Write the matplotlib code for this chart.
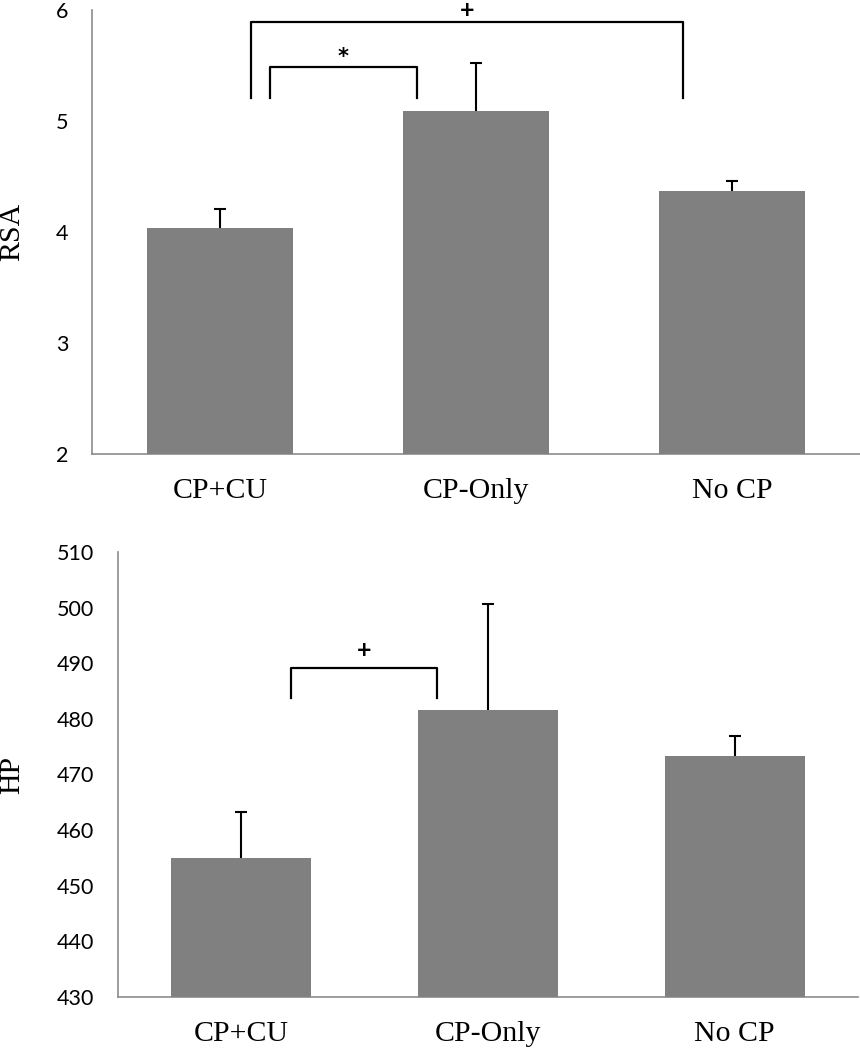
import matplotlib.pyplot as plt
import numpy as np

groups = ['CP+CU', 'CP-Only', 'No CP']

rsa_mean = [4.04, 5.09, 4.37]
rsa_err = [0.17, 0.43, 0.09]

hp_mean = [454.9, 481.6, 473.4]
hp_err = [8.4, 19.1, 3.5]

# significance brackets: (left x, right x, bar top, leg bottom, text)
rsa_sig = [(0.12, 1.81, 5.89, 5.21, '+'),
           (0.195, 0.77, 5.49, 5.21, '*')]
hp_sig = [(0.2, 0.795, 489.2, 483.7, '+')]

bar_color = '#808080'
axis_color = '#8c8c8c'
serif = 'Liberation Serif'
sans = 'Lato'

fig = plt.figure(figsize=(8.6, 10.5), dpi=100)
ax1 = fig.add_axes([92 / 860, 1 - 454 / 1050, 768 / 860, 444 / 1050])
ax2 = fig.add_axes([118 / 860, 1 - 997 / 1050, 740 / 860, 445 / 1050])


def draw_panel(ax, means, errs, ylim, step, ylabel, sigs, label_x, sig_off):
    x = np.arange(len(groups))
    ax.bar(x, means, 0.567, color=bar_color, zorder=3)
    _, caps, _ = ax.errorbar(x, means, yerr=[np.zeros(len(errs)), errs],
                             fmt='none', ecolor='black', elinewidth=1.5,
                             capsize=4, capthick=1.5, zorder=2)
    caps[0].set_visible(False)  # only the upper cap, like the original
    ax.set_xlim(-0.5, 2.5)
    ax.set_ylim(*ylim)
    ax.set_yticks(np.arange(ylim[0], ylim[1] + step / 2, step))
    ax.set_xticks(x)
    ax.set_xticklabels(groups, fontfamily=serif, fontsize=21.5)
    for lab in ax.get_yticklabels():
        lab.set_fontfamily(sans)
        lab.set_fontsize(15.5)
    ax.tick_params(axis='y', length=0, pad=17)
    ax.tick_params(axis='x', length=0, pad=17)
    for s in ['top', 'right']:
        ax.spines[s].set_visible(False)
    for s in ['left', 'bottom']:
        ax.spines[s].set_color(axis_color)
        ax.spines[s].set_linewidth(1.2)
    ax.set_ylabel(ylabel, fontfamily=serif, fontsize=21.5, va='center')
    ax.yaxis.set_label_coords(label_x, 0.5)
    for x1, x2, top, bot, txt in sigs:
        ax.plot([x1, x1, x2, x2], [bot, top, top, bot], color='black',
                lw=1.6, clip_on=False, zorder=4)
        if txt == '*':
            fam, size = 'DejaVu Sans', 15
        else:
            fam, size = sans, 18
        ax.text((x1 + x2) / 2, top + sig_off, txt, ha='center', va='bottom',
                fontsize=size, fontweight='bold', fontfamily=fam,
                clip_on=False)


draw_panel(ax1, rsa_mean, rsa_err, (2, 6), 1, 'RSA', rsa_sig, -0.104, 0.0)
draw_panel(ax2, hp_mean, hp_err, (430, 510), 10, 'HP', hp_sig, -0.143, 1.0)

fig.savefig('out.png', dpi=100)
